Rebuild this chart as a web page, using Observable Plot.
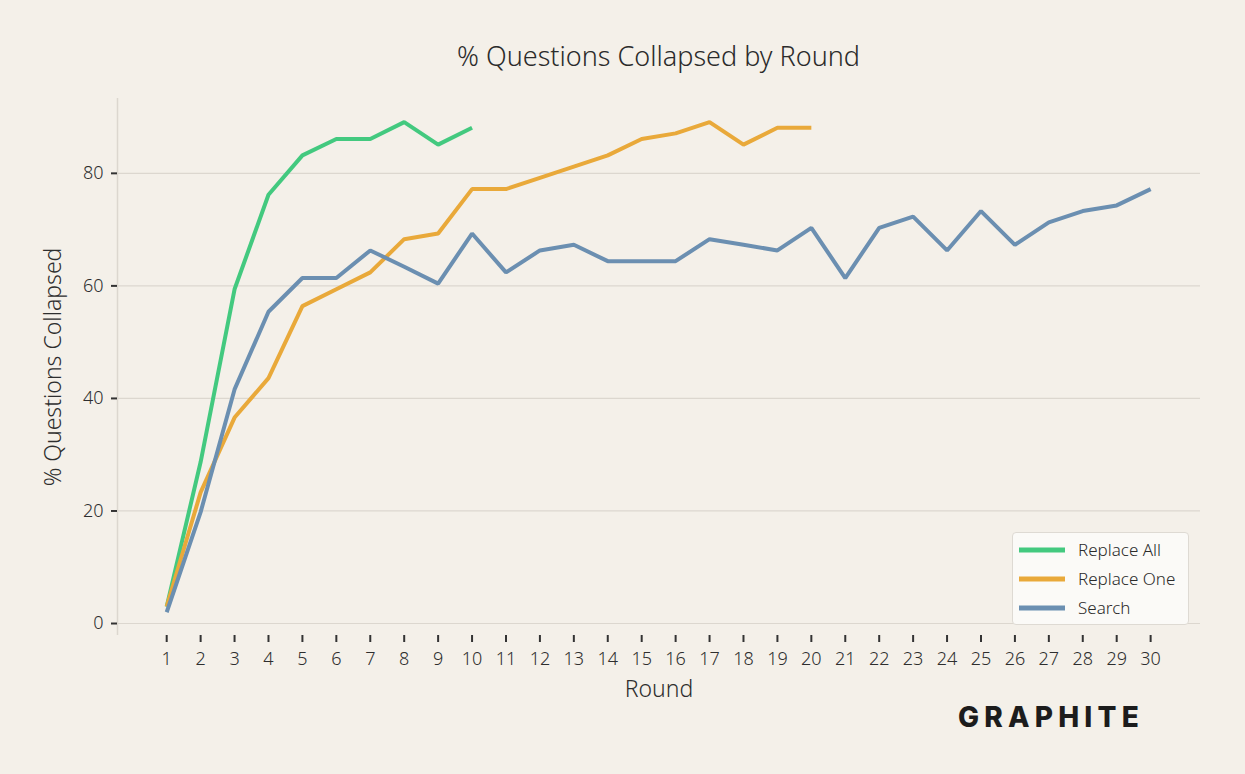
<!DOCTYPE html>
<html>
<head>
<meta charset="utf-8">
<script src="https://cdn.jsdelivr.net/npm/d3@7"></script>
<script src="https://cdn.jsdelivr.net/npm/@observablehq/plot@0.6"></script>
<style>
  html, body { margin: 0; padding: 0; background: #f4f0e9; }
  body { width: 1245px; height: 774px; position: relative; overflow: hidden;
         font-family: "Noto Sans", sans-serif; color: #2b2b2b; }
  #title { position: absolute; left: 117px; width: 1083px; top: 37px;
           text-align: center; font-size: 27px; font-weight: 300; }
  #chart { position: absolute; left: 0; top: 80px; }
  #legend { position: absolute; left: 1012px; top: 532px; width: 177px; height: 93px;
            box-sizing: border-box; background: #fbfaf7; border: 1.5px solid #dedad3;
            border-radius: 4px; padding-top: 2px; }
  .item { display: flex; align-items: center; height: 29px; font-size: 17px; font-weight: 300; }
  .item svg { margin-left: 6px; margin-right: 13px; }
  #logo { position: absolute; left: 958px; top: 700px; font-family: "Inter", sans-serif;
          font-weight: 800; font-size: 28px; letter-spacing: 5.2px; color: #1c1c1c; }
</style>
</head>
<body>
<div id="title">% Questions Collapsed by Round</div>
<div id="chart"></div>
<div id="legend"></div>
<div id="logo">GRAPHITE</div>
<script>
// Share of questions collapsed after each round, per strategy
const rounds = [1, 2, 3, 4, 5, 6, 7, 8, 9, 10, 11, 12, 13, 14, 15,
                16, 17, 18, 19, 20, 21, 22, 23, 24, 25, 26, 27, 28, 29, 30];
const replaceAll = [3.0, 28.7, 59.4, 76.2, 83.2, 86.1, 86.1, 89.1, 85.1, 88.1];
const replaceOne = [3.0, 23.3, 36.6, 43.6, 56.4, 59.4, 62.4, 68.3, 69.3, 77.2,
                    77.2, 79.2, 81.2, 83.2, 86.1, 87.1, 89.1, 85.1, 88.1, 88.1];
const search = [2.0, 19.8, 41.6, 55.4, 61.4, 61.4, 66.3, 63.4, 60.4, 69.3,
                62.4, 66.3, 67.3, 64.4, 64.4, 64.4, 68.3, 67.3, 66.3, 70.3,
                61.4, 70.3, 72.3, 66.3, 73.3, 67.3, 71.3, 73.3, 74.3, 77.2];
const seriesNames = ["Replace All", "Replace One", "Search"];
const seriesColors = ["#43c97f", "#e9a93a", "#6b8fb1"];
const yTicks = [0, 20, 40, 60, 80];

const rows = [];
[replaceAll, replaceOne, search].forEach((vals, i) => {
  vals.forEach((v, j) => rows.push({round: rounds[j], value: v, series: seriesNames[i]}));
});

const font = "Noto Sans, sans-serif";
const chart = Plot.plot({
  width: 1245,
  height: 640,
  marginLeft: 117,
  marginRight: 45,
  marginTop: 18,
  marginBottom: 85,
  style: {background: "transparent", fontFamily: font, fontSize: "18px", color: "#333", fontWeight: 300},
  x: {domain: [-0.45, 31.47]},
  y: {domain: [-2.13, 93.3]},
  color: {domain: seriesNames, range: seriesColors},
  marks: [
    Plot.gridY(yTicks, {stroke: "#dcd7cf", strokeOpacity: 1, strokeWidth: 1.2}),
    Plot.ruleX([-0.45], {stroke: "#dcd7cf", strokeWidth: 1.5}),
    Plot.axisY(yTicks, {tickSize: 6, tickPadding: 8, stroke: "#333", strokeWidth: 2,
      label: "% Questions Collapsed", labelArrow: "none", labelAnchor: "center", labelOffset: 73,
      fontSize: 18, fill: "#2e2e2e"}),
    Plot.axisX(rounds, {tickSize: 7, tickPadding: 10, stroke: "#333", strokeWidth: 2,
      tickFormat: d => String(d), label: "Round", labelArrow: "none", labelAnchor: "center", labelOffset: 61,
      fontSize: 18, fill: "#2e2e2e"}),
    Plot.lineY(rows, {x: "round", y: "value", z: "series", stroke: "series",
      strokeWidth: 4, strokeLinejoin: "miter", strokeLinecap: "butt"})
  ]
});
// axis titles a little larger than the tick labels
chart.querySelectorAll("g[aria-label='x-axis label'] text, g[aria-label='y-axis label'] text")
  .forEach(t => t.style.fontSize = "23px");
document.getElementById("chart").appendChild(chart);

// legend built from the series
const legend = document.getElementById("legend");
seriesNames.forEach((name, i) => {
  const item = document.createElement("div");
  item.className = "item";
  item.innerHTML = `<svg width="46" height="6"><rect width="46" height="5" y="0.5" fill="${seriesColors[i]}"/></svg><span>${name}</span>`;
  legend.appendChild(item);
});
</script>
</body>
</html>
